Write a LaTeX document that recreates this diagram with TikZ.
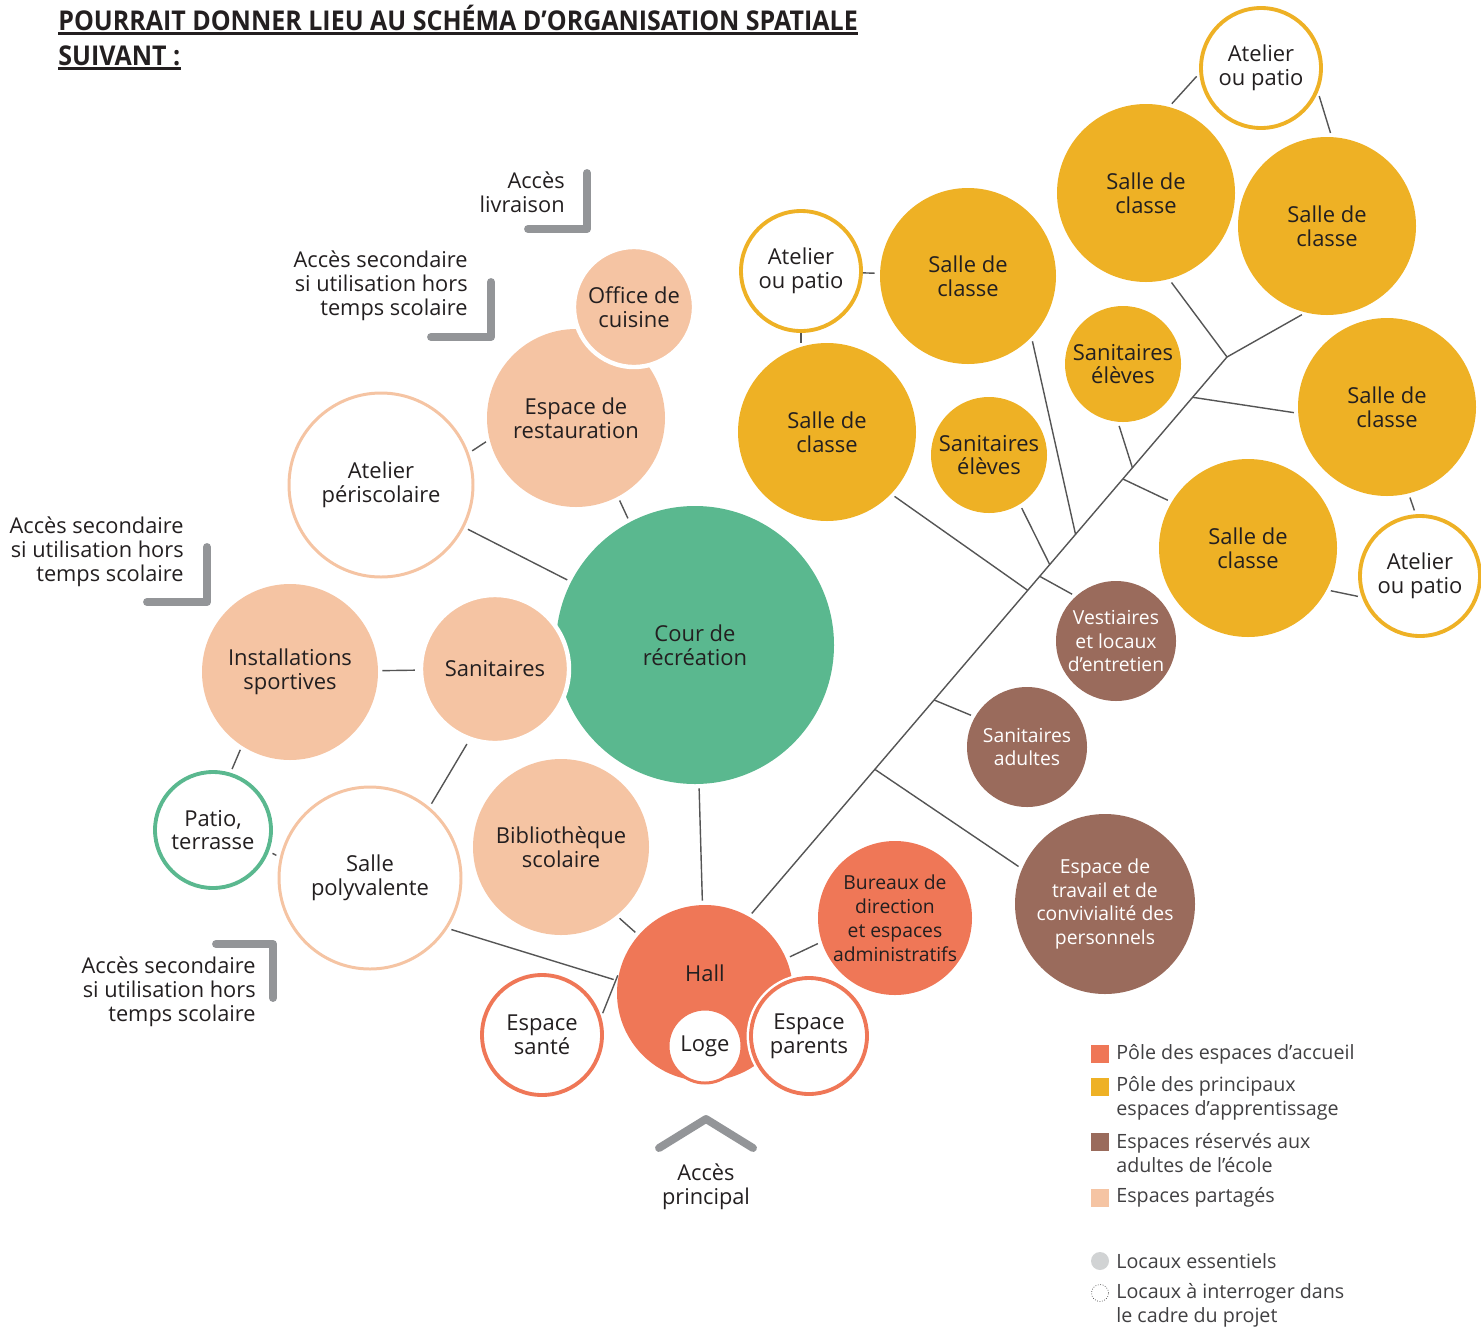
\documentclass[tikz,border=0pt]{standalone}
\usepackage{fontspec}
\setmainfont{Open Sans}
\usetikzlibrary{calc,positioning}

\definecolor{accueil}{HTML}{EF7757}
\definecolor{apprent}{HTML}{EEB125}
\definecolor{adultes}{HTML}{9A6B5C}
\definecolor{partage}{HTML}{F5C4A3}
\definecolor{recre}{HTML}{5AB88F}
\definecolor{acces}{HTML}{939598}
\definecolor{trait}{HTML}{555555}
\definecolor{encre}{HTML}{231F20}
\definecolor{legende}{HTML}{414042}
\definecolor{essentiel}{HTML}{D1D3D4}

\tikzset{
    room/.style={circle, inner sep=0pt, minimum size={2*#1*0.02cm}, align=center,
        text=encre, font=\fontsize{12.5}{13.6}\selectfont},
    plein/.style={fill=#1},
    creux/.style={draw=#1, fill=white, line width=2.2pt},
    petit/.style={font=\fontsize{11}{13.6}\selectfont},
    link/.style={draw=trait, line width=0.8pt},
    gap/.style={shorten <=0.08cm, shorten >=0.08cm},
    access/.style={draw=acces, line width=4.5pt, line cap=round, line join=round},
    accesstext/.style={align=right, anchor=east, inner sep=0pt, text=encre,
        font=\fontsize{12.4}{13.6}\selectfont},
    titre/.style={anchor=base west, inner sep=0pt, text=encre,
        font=\fontsize{15.5}{18}\selectfont\bfseries},
    legsq/.style={minimum size=0.36cm, inner sep=0pt, fill=#1},
    legtxt/.style={anchor=west, align=left, inner sep=0pt, text=legende,
        font=\fontsize{11.2}{13.6}\selectfont}
}

\begin{document}
\begin{tikzpicture}[x=0.02cm, y=-0.02cm]
    \useasboundingbox (0,0) rectangle (1481,1329);

    % titre
    \node[titre] (titreA) at (58,30) {\scalebox{0.918}[1]{POURRAIT DONNER LIEU AU SCHÉMA D’ORGANISATION SPATIALE}};
    \node[titre] (titreB) at (58,65) {\scalebox{0.918}[1]{SUIVANT :}};
    \draw[encre, line width=1.4pt] ([yshift=-0.07cm]titreA.base west) -- ([yshift=-0.07cm]titreA.base east);
    \draw[encre, line width=1.4pt] ([yshift=-0.07cm]titreB.base west) -- ([yshift=-0.07cm]titreB.base east);

    % cour
    \node[room=139, plein=recre] (cour) at (695,645) {Cour de\\récréation};

    % espaces partages
    \node[room=89, plein=partage] (resto) at (576,418) {Espace de\\restauration};
    \node[room=60, plein=partage, draw=white, line width=2.5pt] (cuisine) at (634,307) {Office de\\cuisine};
    \node[room=92, creux=partage, line width=1.7pt] (peri) at (381,485) {Atelier\\périscolaire};
    \node[room=88, plein=partage] (sport) at (290,672) {Installations\\sportives};
    \node[room=74, plein=partage, draw=white, line width=2.5pt] (sani) at (495,669) {Sanitaires};
    \node[room=88, plein=partage] (biblio) at (561,847) {Bibliothèque\\scolaire};
    \node[room=91, creux=partage, line width=1.7pt] (poly) at (370,878) {Salle\\polyvalente};
    \node[room=58, creux=recre] (patio) at (213,830) {Patio,\\terrasse};

    % accueil
    \node[room=88, plein=accueil] (hall) at (705,993) {};
    \node[room=10, plein=accueil] (hallTxt) at (705,973) {Hall};
    \node[room=37, creux=accueil, line width=1.7pt] (loge) at (705,1046) {Loge};
    \node[room=58, creux=accueil, preaction={draw=white, line width=5pt}] (parents) at (809,1036) {Espace\\parents};
    \node[room=60, creux=accueil] (sante) at (542,1035) {Espace\\santé};
    \node[room=77, plein=accueil, petit] (bureaux) at (895,918) {Bureaux de\\direction\\et espaces\\administratifs};

    % adultes
    \node[room=60, plein=adultes, petit, text=white] (vest) at (1116,641) {Vestiaires\\et locaux\\d’entretien};
    \node[room=60, plein=adultes, petit, text=white] (saniad) at (1027,747) {Sanitaires\\adultes};
    \node[room=90, plein=adultes, petit, text=white] (travail) at (1105,904) {Espace de\\travail et de\\convivialité des\\personnels};

    % apprentissage
    \node[room=60, creux=apprent] (atA) at (1261,68) {Atelier\\ou patio};
    \node[room=89, plein=apprent] (clA) at (1146,193) {Salle de\\classe};
    \node[room=89, plein=apprent] (clB) at (1327,226) {Salle de\\classe};
    \node[room=60, creux=apprent] (atB) at (801,271) {Atelier\\ou patio};
    \node[room=88, plein=apprent] (clC) at (968,276) {Salle de\\classe};
    \node[room=58, plein=apprent] (seA) at (1123,364) {Sanitaires\\élèves};
    \node[room=89, plein=apprent] (clD) at (1387,407) {Salle de\\classe};
    \node[room=89, plein=apprent] (clE) at (827,432) {Salle de\\classe};
    \node[room=58, plein=apprent] (seB) at (989,455) {Sanitaires\\élèves};
    \node[room=89, plein=apprent] (clF) at (1248,548) {Salle de\\classe};
    \node[room=60, creux=apprent] (atC) at (1420,576) {Atelier\\ou patio};

    % liaisons cote gauche
    \draw[link, gap] (peri) -- (cour);
    \draw[link, gap] (peri.20) -- (resto.194);
    \draw[link, gap] (resto.298) -- (cour.118);
    \draw[link, gap] (sport) -- (sani);
    \draw[link, gap] (sani.250) -- (poly.50);
    \draw[link, gap] (sport.237) -- (patio.73);
    \draw[link, gap] (patio.339) -- (poly.167);
    \draw[link, gap] (cour) -- (hall);
    \draw[link, gap] (biblio.309) -- (hall.139);
    \draw[link, gap] (poly.327) -- (hall.172);
    \draw[link, gap] (sante.17) -- (hall.166);
    \draw[link, gap] (hall.23) -- (bureaux.198);

    % tronc
    \coordinate (tTop) at (1227,357);
    \draw[link, shorten <=0.08cm] (hall.60) -- (tTop);
    \draw[link, shorten >=0.08cm] (tTop) -- (clB.256);
    \draw[link, shorten >=0.08cm] (tTop) -- (clA.285);
    \coordinate (b1) at ($(hall.60)!0.928!(tTop)$);
    \coordinate (b2) at ($(hall.60)!0.802!(tTop)$);
    \coordinate (b3) at ($(hall.60)!0.782!(tTop)$);
    \coordinate (b4) at ($(hall.60)!0.683!(tTop)$);
    \coordinate (b5) at ($(hall.60)!0.629!(tTop)$);
    \coordinate (b6) at ($(hall.60)!0.608!(tTop)$);
    \coordinate (b7) at ($(hall.60)!0.583!(tTop)$);
    \coordinate (b8) at ($(hall.60)!0.387!(tTop)$);
    \coordinate (b9) at ($(hall.60)!0.263!(tTop)$);
    \draw[link, shorten >=0.08cm] (b1) -- (clD.184);
    \draw[link, shorten >=0.08cm] (b2) -- (seA.265);
    \draw[link, shorten >=0.08cm] (b3) -- (clF.149);
    \draw[link, shorten >=0.08cm] (b4) -- (clC.316);
    \draw[link, shorten >=0.08cm] (b5) -- (seB.302);
    \draw[link, shorten >=0.08cm] (b6) -- (vest.132);
    \draw[link, shorten >=0.08cm] (b7) -- (clE.316);
    \draw[link, shorten >=0.08cm] (b8) -- (saniad.150);
    \draw[link, shorten >=0.08cm] (b9) -- (travail.157);

    % ateliers
    \draw[link, gap] (atA.185) -- (clA.75);
    \draw[link, gap] (atA.337) -- (clB.87);
    \draw[link, shorten >=0.1cm] (atB) -- (clC);
    \draw[link] (atB.south) -- (atB.south |- clE.north);
    \draw[link, gap] (clD.284) -- (atC.94);
    \draw[link, gap] (clF.332) -- (atC.200);

    % acces
    \node[accesstext] (acLiv) at (565,192) {Accès\\livraison};
    \draw[access] (587,173) -- (587,229) -- (528,229);
    \node[accesstext] (acSecA) at (468,286) {Accès secondaire\\si utilisation hors\\temps scolaire};
    \draw[access] (491,282) -- (491,337) -- (431,337);
    \node[accesstext] (acSecB) at (184,552) {Accès secondaire\\si utilisation hors\\temps scolaire};
    \draw[access] (207,547) -- (207,602) -- (147,602);
    \node[accesstext] (acSecC) at (256,992) {Accès secondaire\\si utilisation hors\\temps scolaire};
    \draw[access] (216,944) -- (273,944) -- (273,998);
    \node[accesstext, anchor=center, align=center] (acPrin) at (706,1187) {Accès\\principal};
    \draw[access] (659,1148) -- (706,1119) -- (753,1148);

    % legende
    \node[legsq=accueil] (lgA) at (1100,1054) {};
    \node[legtxt] (lgAtxt) at (1116,1054) {Pôle des espaces d’accueil};
    \node[legsq=apprent] (lgB) at (1100,1087) {};
    \node[legtxt] (lgBtxt) at (1116,1098) {Pôle des principaux\\espaces d’apprentissage};
    \node[legsq=adultes] (lgC) at (1100,1142) {};
    \node[legtxt] (lgCtxt) at (1116,1153) {Espaces réservés aux\\adultes de l’école};
    \node[legsq=partage] (lgD) at (1100,1198) {};
    \node[legtxt] (lgDtxt) at (1116,1197) {Espaces partagés};
    \node[circle, minimum size=0.36cm, inner sep=0pt, fill=essentiel] (lgE) at (1100,1261) {};
    \node[legtxt] (lgEtxt) at (1116,1261) {Locaux essentiels};
    \node[circle, minimum size=0.34cm, inner sep=0pt, draw=legende, densely dotted, line width=0.4pt] (lgF) at (1100,1293) {};
    \node[legtxt] (lgFtxt) at (1116,1305) {Locaux à interroger dans\\le cadre du projet};
\end{tikzpicture}
\end{document}
